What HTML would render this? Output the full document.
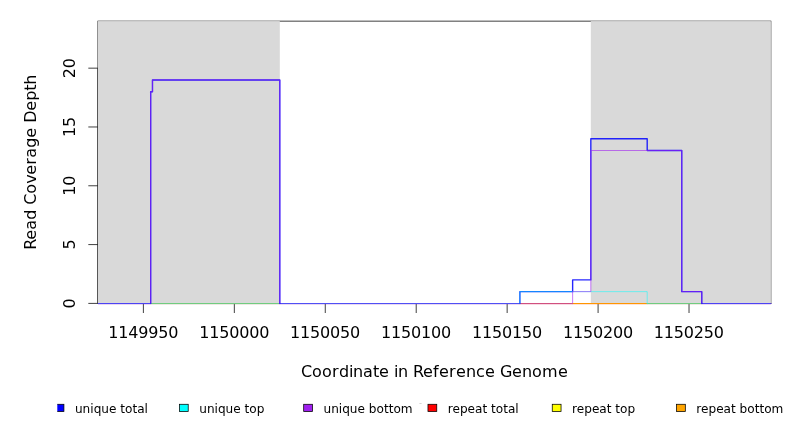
<!DOCTYPE html><html><head><meta charset="utf-8"><style>html,body{margin:0;padding:0;background:#fff;overflow:hidden}svg{display:block;will-change:transform}text{font-family:"DejaVu Sans","Liberation Sans",sans-serif;fill:#000}</style></head><body>
<svg width="792" height="432" viewBox="0 0 792 432">
<rect width="792" height="432" fill="#fff"/>
<rect x="97.92" y="21.12" width="672.96" height="282.28" fill="none" stroke="#000" stroke-width="0.75"/>
<path d="M97.92 303.4V68.17M97.92 303.4H88.32M97.92 244.59H88.32M97.92 185.78H88.32M97.92 126.97H88.32M97.92 68.17H88.32" stroke="#000" stroke-width="0.75" fill="none"/>
<path d="M143.39 303.4V313M234.33 303.4V313M325.27 303.4V313M416.21 303.4V313M507.15 303.4V313M598.09 303.4V313M689.03 303.4V313" stroke="#000" stroke-width="0.75" fill="none"/>
<rect x="97.92" y="21.12" width="181.88" height="282.28" fill="#d9d9d9"/>
<rect x="590.82" y="21.12" width="180.06" height="282.28" fill="#d9d9d9"/>
<clipPath id="c"><rect x="97.92" y="21.12" width="673.96" height="283.28"/></clipPath>
<g clip-path="url(#c)" fill="none" stroke-linejoin="round" stroke-linecap="round">
<path d="M97.92 304.5H770.38" stroke="#ff2060" stroke-opacity="0.16" stroke-width="1"/>
<path d="M97.92 303.55H150.67" stroke="#4c44f4" stroke-opacity="1" stroke-width="1.3"/>
<path d="M150.67 303.55H279.8" stroke="#70cc80" stroke-opacity="1" stroke-width="1.3"/>
<path d="M279.8 303.55H519.88" stroke="#5050f5" stroke-opacity="1" stroke-width="1.3"/>
<path d="M519.88 303.55H572.63" stroke="#d05080" stroke-opacity="1" stroke-width="1.3"/>
<path d="M572.63 303.55H647.2" stroke="#ff9600" stroke-opacity="1" stroke-width="1.3"/>
<path d="M647.2 303.55H701.77" stroke="#70cc80" stroke-opacity="1" stroke-width="1.3"/>
<path d="M701.77 303.55H770.88" stroke="#4c44f4" stroke-opacity="1" stroke-width="1.3"/>
<path d="M150.67 303.4V91.69H152.48V79.93H279.8V303.4M519.88 303.4V291.64H572.63V279.88H590.82V138.74H647.2V150.5H681.76V291.64H701.77V303.4" stroke="#0000ff" stroke-opacity="0.85" stroke-width="1.4"/>
<path d="M519.88 303.4V291.64H647.2V303.4" stroke="#00ffff" stroke-opacity="0.5" stroke-width="1"/>
<path d="M150.67 303.4V91.69H152.48V79.93H279.8V303.4M572.63 303.4V291.64H590.82V150.5H681.76V291.64H701.77V303.4" stroke="#a020f0" stroke-opacity="0.6" stroke-width="1"/>
</g>
<rect x="770.6" y="303" width="0.8" height="1" fill="#5c3c96"/>
<text x="-5" y="0" font-size="16" transform="translate(75.3 303.4) rotate(-90)">0</text>
<text x="-5" y="0" font-size="16" transform="translate(75.3 244.59) rotate(-90)">5</text>
<text x="-10 0" y="0" font-size="16" transform="translate(75.3 185.78) rotate(-90)">10</text>
<text x="-10 0" y="0" font-size="16" transform="translate(75.3 126.97) rotate(-90)">15</text>
<text x="-10 0" y="0" font-size="16" transform="translate(75.3 68.17) rotate(-90)">20</text>
<text x="108.19 118.19 128.19 138.19 148.19 158.19 168.19" y="337.6" font-size="16">1149950</text>
<text x="199.13 209.13 219.13 229.13 239.13 249.13 259.13" y="337.6" font-size="16">1150000</text>
<text x="290.07 300.07 310.07 320.07 330.07 340.07 350.07" y="337.6" font-size="16">1150050</text>
<text x="381.01 391.01 401.01 411.01 421.01 431.01 441.01" y="337.6" font-size="16">1150100</text>
<text x="471.95 481.95 491.95 501.95 511.95 521.95 531.95" y="337.6" font-size="16">1150150</text>
<text x="562.89 572.89 582.89 592.89 602.89 612.89 622.89" y="337.6" font-size="16">1150200</text>
<text x="653.83 663.83 673.83 683.83 693.83 703.83 713.83" y="337.6" font-size="16">1150250</text>
<text x="300.9 311.9 321.9 331.9 338.9 348.9 352.9 362.9 372.9 378.9 388.9 393.9 397.9 407.9 412.9 422.9 432.9 438.9 448.9 455.9 465.9 475.9 484.9 494.9 499.9 511.9 521.9 531.9 541.9 557.9" y="376.5" font-size="16">Coordinate in Reference Genome</text>
<text x="-87.5 -77.5 -67.5 -57.5 -47.5 -42.5 -31.5 -21.5 -12.5 -2.5 4.5 14.5 24.5 34.5 39.5 51.5 61.5 71.5 77.5" y="0" font-size="16" transform="translate(35.8 162.26) rotate(-90)">Read Coverage Depth</text>
<clipPath id="lc"><rect x="57.3" y="380" width="735" height="52"/></clipPath>
<rect x="55.12" y="404.28" width="8.8" height="7.25" fill="#0000ff" stroke="#000" stroke-width="0.75" clip-path="url(#lc)"/>
<text x="74.95" y="413.1" font-size="12.1">unique total</text>
<rect x="179.41" y="404.28" width="8.8" height="7.25" fill="#00ffff" stroke="#000" stroke-width="0.75"/>
<text x="199.23" y="413.1" font-size="12.1">unique top</text>
<rect x="303.69" y="404.28" width="8.8" height="7.25" fill="#a020f0" stroke="#000" stroke-width="0.75"/>
<text x="323.51" y="413.1" font-size="12.1">unique bottom</text>
<rect x="427.97" y="404.28" width="8.8" height="7.25" fill="#ff0000" stroke="#000" stroke-width="0.75"/>
<text x="447.79" y="413.1" font-size="12.1">repeat total</text>
<rect x="552.25" y="404.28" width="8.8" height="7.25" fill="#ffff00" stroke="#000" stroke-width="0.75"/>
<text x="572.07" y="413.1" font-size="12.1">repeat top</text>
<rect x="676.52" y="404.28" width="8.8" height="7.25" fill="#ffa500" stroke="#000" stroke-width="0.75"/>
<text x="696.35" y="413.1" font-size="12.1">repeat bottom</text>
<rect x="419.4" y="403" width="2.2" height="1" fill="#d6d6d6"/>
</svg></body></html>
